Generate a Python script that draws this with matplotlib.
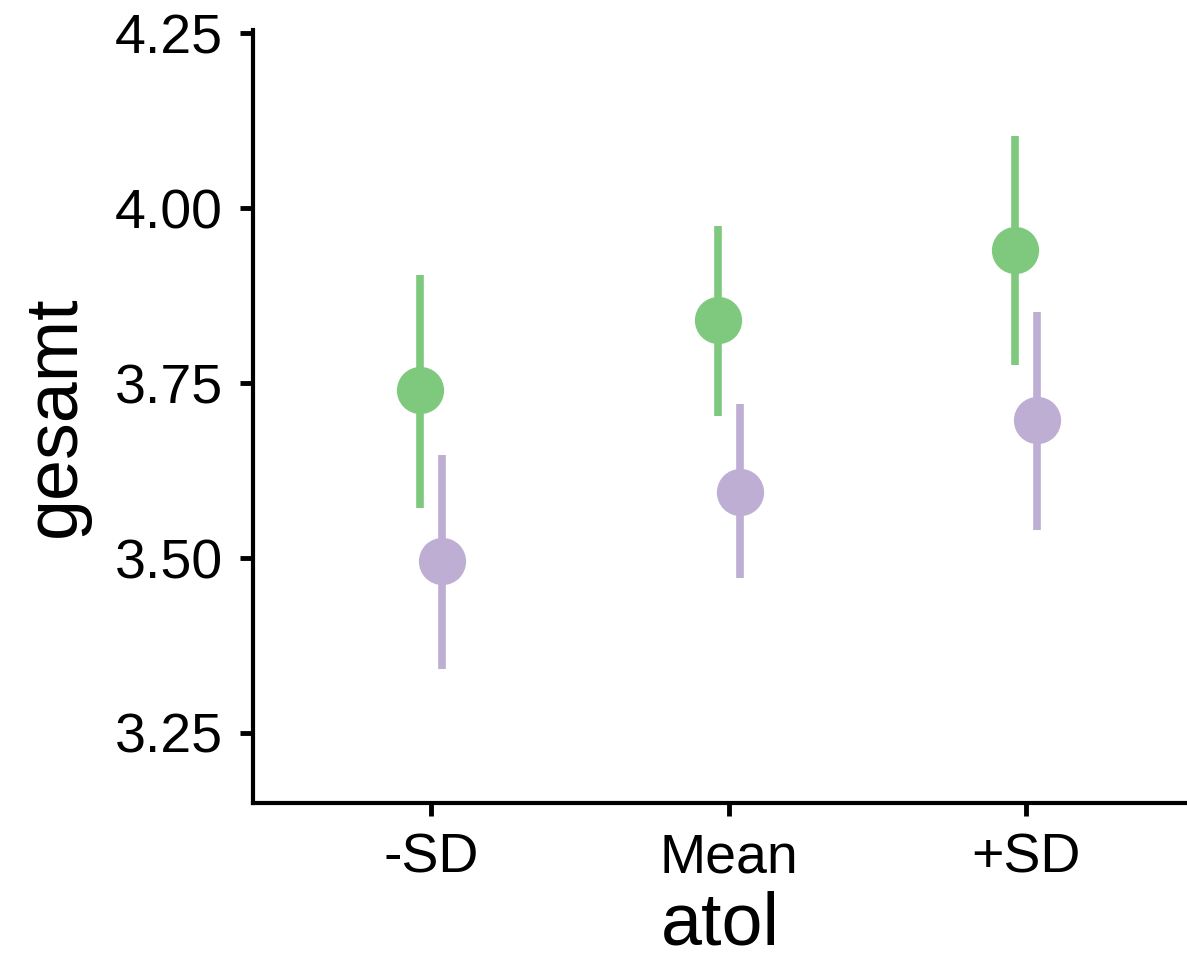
import numpy as np
import matplotlib.pyplot as plt

plt.rcParams['font.family'] = ['Liberation Sans', 'DejaVu Sans']

levels = ['-SD', 'Mean', '+SD']
green_mean = [3.74, 3.84, 3.94]
green_lo = [3.571, 3.703, 3.776]
green_hi = [3.905, 3.974, 4.104]
purple_mean = [3.496, 3.595, 3.697]
purple_lo = [3.342, 3.471, 3.540]
purple_hi = [3.648, 3.720, 3.852]

x = np.arange(1, len(levels) + 1)
dodge = 0.037

fig = plt.figure(figsize=(11.87, 9.65), dpi=100)
ax = fig.add_axes([0.213, 0.168, 0.787, 0.801])

for xs, m, lo, hi, col in [(x - dodge, green_mean, green_lo, green_hi, '#7fc97f'),
                           (x + dodge, purple_mean, purple_lo, purple_hi, '#beaed4')]:
    ax.vlines(xs, lo, hi, color=col, lw=5.5)
    ax.plot(xs, m, 'o', color=col, ms=34, mec='none', ls='none')

ax.set_xlim(0.4, 3.54)
ax.set_ylim(3.15, 4.255)
ax.set_yticks([3.25, 3.5, 3.75, 4.0, 4.25])
ax.set_yticklabels(['3.25', '3.50', '3.75', '4.00', '4.25'])
ax.set_xticks(x)
ax.set_xticklabels(levels)
ax.tick_params(labelsize=40, width=3.5, length=9.5, pad=12)
ax.set_xlabel('atol', fontsize=53, labelpad=4)
ax.set_ylabel('gesamt', fontsize=53, labelpad=18)
for s in ['top', 'right']:
    ax.spines[s].set_visible(False)
for s in ['left', 'bottom']:
    ax.spines[s].set_linewidth(3)

fig.savefig('out.png', dpi=100)
